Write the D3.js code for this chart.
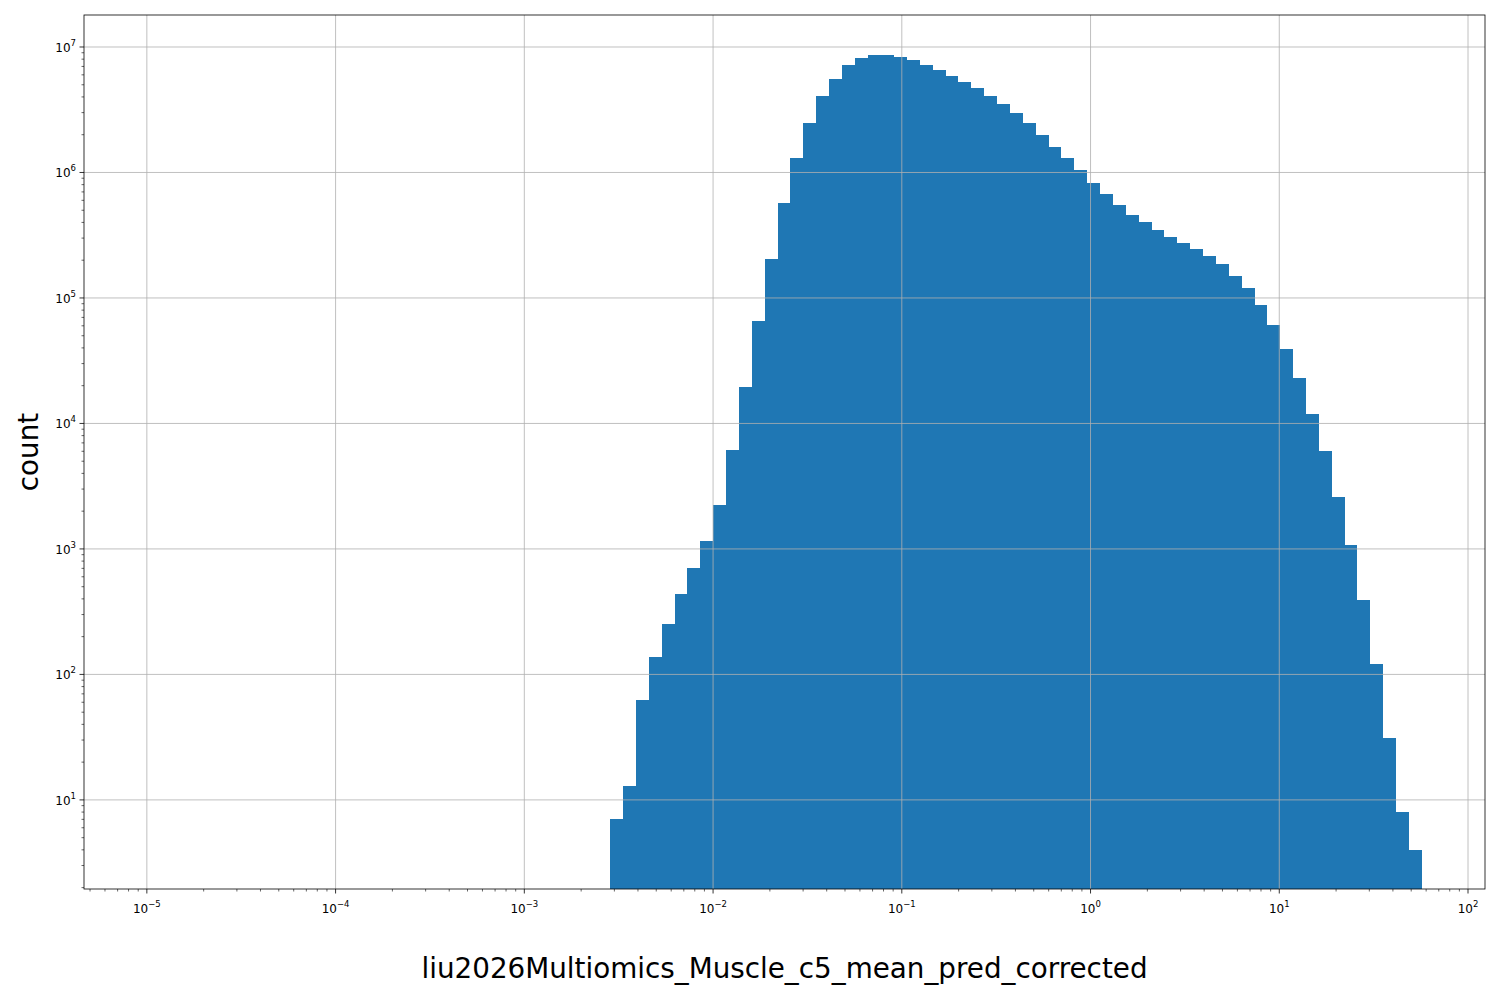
<!DOCTYPE html>
<meta charset="utf-8">
<style>
body{margin:0;background:#fff;}
text{font-family:"DejaVu Sans",sans-serif;}
.grid line{stroke:#b0b0b0;stroke-width:0.8px;}
</style>
<body>
<script src="https://d3js.org/d3.v7.min.js"></script>
<script>
// histogram bins (log10 of first and last edge) and counts
var binLo = -2.545, binHi = 1.751;
var counts = [7,13,62,138,250,440,710,1150,2250,6100,19500,65000,205000,570000,
  1.3e6,2.5e6,4.1e6,5.6e6,7.2e6,8.2e6,8.6e6,8.6e6,8.3e6,7.9e6,7.2e6,6.5e6,5.9e6,
  5.3e6,4.7e6,4.1e6,3.5e6,3.0e6,2.5e6,2.0e6,1.6e6,1.3e6,1.05e6,8.3e5,6.7e5,5.5e5,
  4.6e5,4.0e5,3.5e5,3.05e5,2.75e5,2.45e5,2.15e5,1.85e5,1.5e5,1.2e5,8.8e4,6.1e4,
  3.9e4,2.3e4,1.2e4,6000,2600,1070,395,120,31,8,4];
var xTicks = [-5,-4,-3,-2,-1,0,1,2];
var yTicks = [1,2,3,4,5,6,7];
var xLabel = "liu2026Multiomics_Muscle_c5_mean_pred_corrected";
var yLabel = "count";

var W = 1500, H = 1000, m = {l:84, r:15, t:15, b:111};
var svg = d3.select("body").append("svg").attr("width", W).attr("height", H);
var x = d3.scaleLog().domain([Math.pow(10,-5.333), Math.pow(10,2.09)]).range([m.l, W-m.r]);
var y = d3.scaleLog().domain([Math.pow(10,0.29), Math.pow(10,7.255)]).range([H-m.b, m.t]);

var n = counts.length, step = (binHi-binLo)/n;
var bins = counts.map(function(c,i){
  return {x0:Math.pow(10,binLo+i*step), x1:Math.pow(10,binLo+(i+1)*step), c:c};
});

// bars
svg.append("g").selectAll("rect").data(bins).enter().append("rect")
  .attr("x",d=>x(d.x0)).attr("width",d=>x(d.x1)-x(d.x0)+0.8)
  .attr("y",d=>y(d.c)).attr("height",d=>y.range()[0]-y(d.c))
  .attr("fill","#1f77b4").attr("shape-rendering","crispEdges");

// grid drawn above bars
var g = svg.append("g").attr("class","grid");
g.selectAll(".gx").data(xTicks).enter().append("line")
  .attr("x1",d=>x(Math.pow(10,d))).attr("x2",d=>x(Math.pow(10,d)))
  .attr("y1",m.t).attr("y2",H-m.b);
g.selectAll(".gy").data(yTicks).enter().append("line")
  .attr("y1",d=>y(Math.pow(10,d))).attr("y2",d=>y(Math.pow(10,d)))
  .attr("x1",m.l).attr("x2",W-m.r);

svg.append("rect").attr("x",m.l).attr("y",m.t).attr("width",W-m.l-m.r).attr("height",H-m.t-m.b)
  .attr("fill","none").attr("stroke","#000").attr("stroke-width",0.8);

// ticks
function minor(lo,hi){var a=[];for(var e=lo;e<=hi;e++)for(var k=2;k<10;k++)a.push(k*Math.pow(10,e));return a;}
var ax = svg.append("g");
var xd = x.domain(), yd = y.domain();
minor(-6,2).filter(v=>v>=xd[0]&&v<=xd[1]).forEach(function(v){
  ax.append("line").attr("x1",x(v)).attr("x2",x(v)).attr("y1",H-m.b).attr("y2",H-m.b+2.5).attr("stroke","#000").attr("stroke-width",0.6);
});
minor(0,7).filter(v=>v>=yd[0]&&v<=yd[1]).forEach(function(v){
  ax.append("line").attr("y1",y(v)).attr("y2",y(v)).attr("x1",m.l).attr("x2",m.l-2.5).attr("stroke","#000").attr("stroke-width",0.6);
});
xTicks.forEach(function(e){
  var px = x(Math.pow(10,e));
  ax.append("line").attr("x1",px).attr("x2",px).attr("y1",H-m.b).attr("y2",H-m.b+4.5).attr("stroke","#000").attr("stroke-width",0.8);
  var t = ax.append("text").attr("x",px).attr("y",H-m.b+24).attr("text-anchor","middle").attr("font-size",12);
  t.append("tspan").text("10");
  t.append("tspan").attr("dy",-6).attr("font-size",8.5).text(e<0?"\u2212"+(-e):e);
});
yTicks.forEach(function(e){
  var py = y(Math.pow(10,e));
  ax.append("line").attr("y1",py).attr("y2",py).attr("x1",m.l).attr("x2",m.l-4.5).attr("stroke","#000").attr("stroke-width",0.8);
  var t = ax.append("text").attr("x",m.l-8).attr("y",py+5).attr("text-anchor","end").attr("font-size",12);
  t.append("tspan").text("10");
  t.append("tspan").attr("dy",-6).attr("font-size",8.5).text(e);
});

svg.append("text").attr("x",(m.l+W-m.r)/2).attr("y",978).attr("text-anchor","middle")
  .attr("font-size",27.8).text(xLabel);
svg.append("text").attr("transform","translate(38,"+((m.t+H-m.b)/2)+") rotate(-90)")
  .attr("text-anchor","middle").attr("font-size",27.8).text(yLabel);
</script>
</body>
</html>
